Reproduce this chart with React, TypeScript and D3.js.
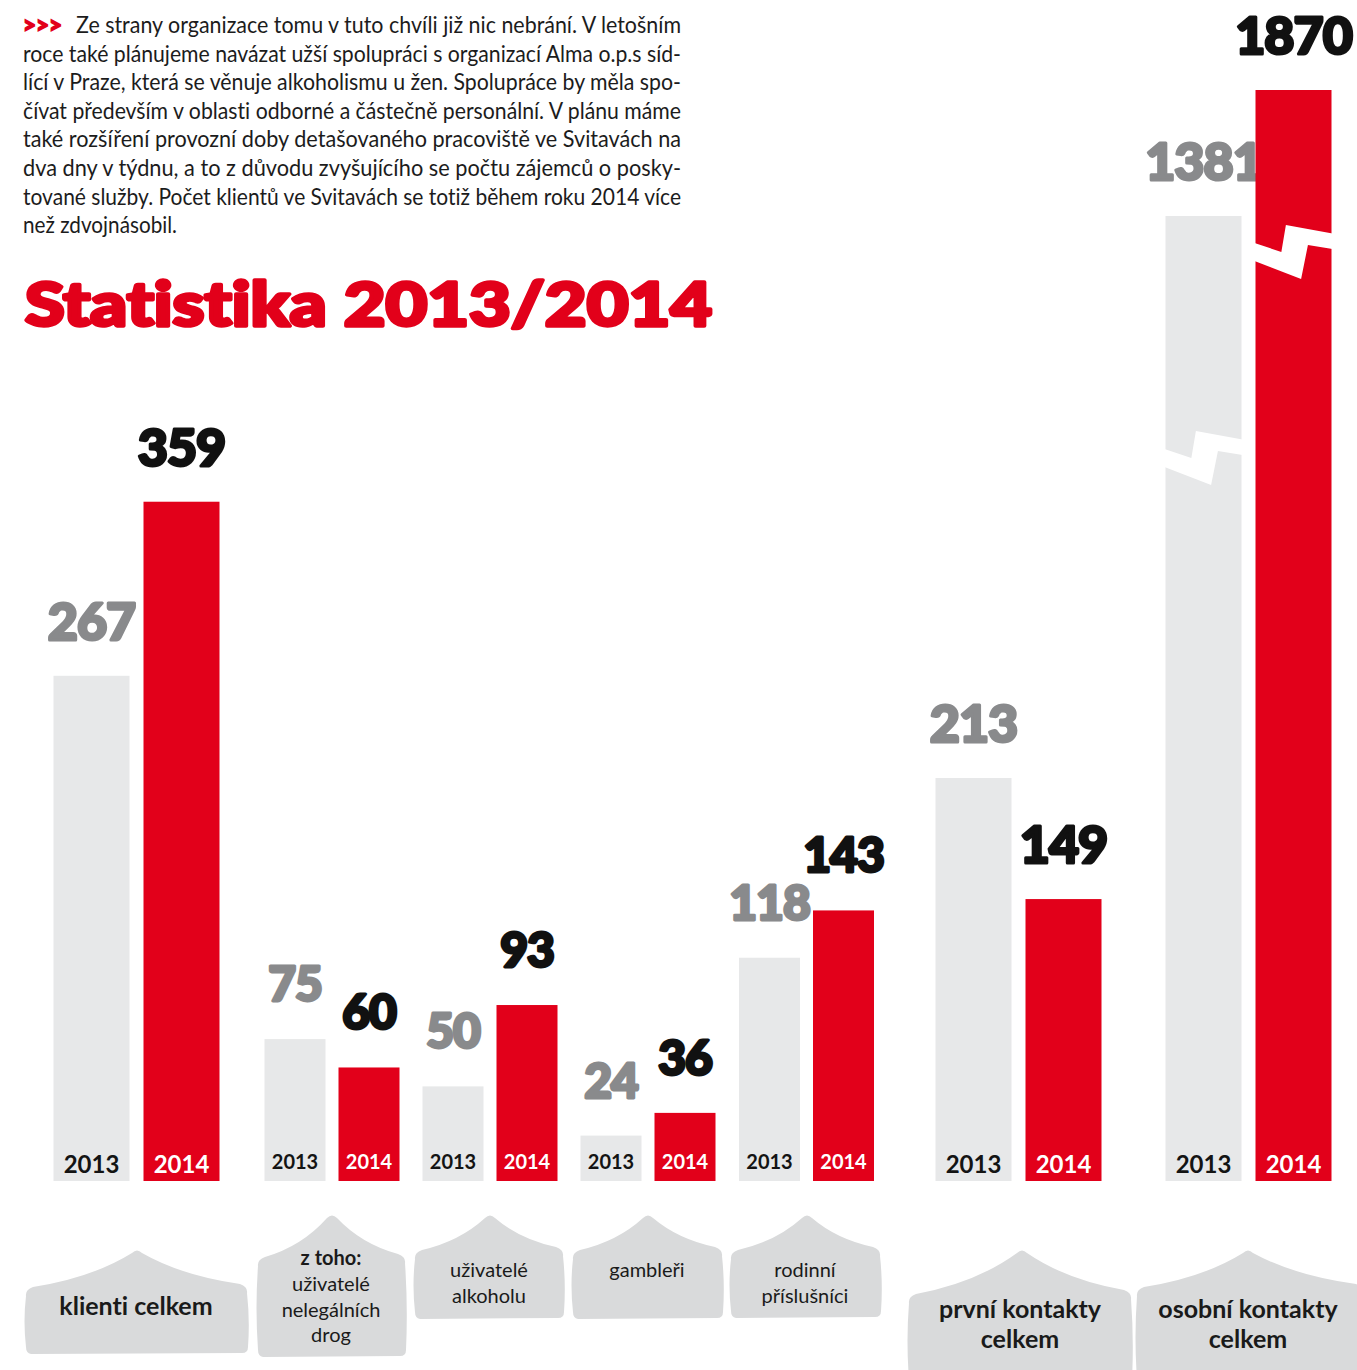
import React from 'react';
import * as d3 from 'd3';

// ---------- DATA ----------
const categories = [
  'klienti celkem',
  'z toho: uživatelé nelegálních drog',
  'uživatelé alkoholu',
  'gambleři',
  'rodinní příslušníci',
  'první kontakty celkem',
  'osobní kontakty celkem',
];
const categoryLines = [
  ['klienti celkem'],
  ['z toho:', 'uživatelé', 'nelegálních', 'drog'],
  ['uživatelé', 'alkoholu'],
  ['gambleři'],
  ['rodinní', 'příslušníci'],
  ['první kontakty', 'celkem'],
  ['osobní kontakty', 'celkem'],
];
const years = ['2013', '2014'];
const values2013 = [267, 75, 50, 24, 118, 213, 1381];
const values2014 = [359, 60, 93, 36, 143, 149, 1870];
const brokenGroups = [6];

const title = 'Statistika 2013/2014';
const paragraphLead = '>>>';
const paragraphLines = [
  'Ze strany organizace tomu v tuto chvíli již nic nebrání. V letošním',
  'roce také plánujeme navázat užší spolupráci s organizací Alma o.p.s síd-',
  'lící v Praze, která se věnuje alkoholismu u žen. Spolupráce by měla spo-',
  'čívat především v oblasti odborné a částečně personální. V plánu máme',
  'také rozšíření provozní doby detašovaného pracoviště ve Svitavách na',
  'dva dny v týdnu, a to z důvodu zvyšujícího se počtu zájemců o posky-',
  'tované služby. Počet klientů ve Svitavách se totiž během roku 2014 více',
  'než zdvojnásobil.',
];

// ---------- LAYOUT / STYLE ----------
const W = 1357;
const H = 1370;
const RED = '#e2001a';
const BAR_GRAY = '#e7e8e9';
const SHAPE_GRAY = '#d9dadb';
const NUM_GRAY = '#898a8c';
const INK = '#141414';

const BASELINE = 1181;
const BREAK_VALUE = 372.7; // value where scale changes slope (broken bars)
const y = d3
  .scaleLinear()
  .domain([0, BREAK_VALUE, 1870])
  .range([BASELINE, 475.8, 90]);

const groupCenter = [136.5, 332, 490, 648, 806.5, 1018.5, 1248.5];
const wide = [true, false, false, false, false, true, true];
const BREAK_PEAK_Y = [431, 225];

const shapes = [
  { x0: 25, x1: 248, px: 137, yl: 1290, yr: 1287, yp: 1249, yb: 1353 },
  { x0: 257, x1: 406, px: 332, yl: 1260, yr: 1257, yp: 1214, yb: 1356 },
  { x0: 414, x1: 564, px: 490, yl: 1253, yr: 1250, yp: 1214, yb: 1318 },
  { x0: 572, x1: 723, px: 648, yl: 1253, yr: 1250, yp: 1214, yb: 1318 },
  { x0: 730, x1: 881, px: 807, yl: 1253, yr: 1250, yp: 1214, yb: 1317 },
  { x0: 908, x1: 1132, px: 1022, yl: 1297, yr: 1293, yp: 1249, yb: 1385 },
  { x0: 1136, x1: 1364, px: 1248, yl: 1290, yr: 1287, yp: 1249, yb: 1385 },
];
const labelLayout = [
  { cx: 136, base: 1315, lh: 0, size: 25, boldAll: true },
  { cx: 331, base: 1265, lh: 25.8, size: 20, boldAll: false, boldFirst: true },
  { cx: 489, base: 1277, lh: 26, size: 20, boldAll: false },
  { cx: 647, base: 1277, lh: 26, size: 20, boldAll: false },
  { cx: 805, base: 1277, lh: 26, size: 20, boldAll: false },
  { cx: 1020, base: 1318, lh: 30, size: 25, boldAll: true },
  { cx: 1248, base: 1318, lh: 30, size: 25, boldAll: true },
];

function housePath(s: any) {
  const { x0, x1, px, yl, yr, yp, yb } = s;
  const r = 6;
  const cl = [x0 + (px - x0) * 0.6, yl - (yl - yp) * 0.3];
  const cr = [x1 - (x1 - px) * 0.6, yr - (yr - yp) * 0.3];
  return [
    `M${x0 + 1},${yb - r}`,
    `Q${x0 - 2},${(yb + yl) / 2} ${x0 + 1},${yl + r}`,
    `Q${x0},${yl} ${x0 + r + 2},${yl - 3}`,
    `Q${cl[0]},${cl[1]} ${px - 5},${yp + 4}`,
    `Q${px},${yp - 1} ${px + 5},${yp + 4}`,
    `Q${cr[0]},${cr[1]} ${x1 - r - 2},${yr - 3}`,
    `Q${x1},${yr} ${x1 - 1},${yr + r}`,
    `Q${x1 + 2},${(yb + yr) / 2} ${x1},${yb - r}`,
    `Q${x1},${yb} ${x1 - r},${yb}`,
    `L${x0 + r},${yb + 1}`,
    `Q${x0 + 1},${yb} ${x0 + 1},${yb - r}`,
    'Z',
  ].join(' ');
}

function breakPath(x0: number, w: number, yp: number) {
  const pts: [number, number][] = [
    [x0 - 1, yp + 18],
    [x0 + 0.34 * w, yp + 27],
    [x0 + 0.4 * w, yp],
    [x0 + w + 1, yp + 8.5],
    [x0 + w + 1, yp + 24],
    [x0 + 0.69 * w, yp + 20],
    [x0 + 0.6 * w, yp + 54],
    [x0 - 1, yp + 36],
  ];
  return d3.line()(pts) + 'Z';
}

export default function App() {
  const NUM_FONT = "Lato, 'DejaVu Sans', sans-serif";
  const TXT_FONT = "Lato, 'Noto Sans', sans-serif";
  const paraX0 = 23;
  const paraX1 = 681;
  const paraBase = 33;
  const paraLH = 28.6;

  return (
    <div style={{ position: 'absolute', left: 0, top: 0 }}>
      <svg
        width={W}
        height={H}
        style={{ display: 'block', background: '#fff', fontVariantLigatures: 'none' }}
      >
        {/* paragraph */}
        <text
          x={paraX0}
          y={paraBase}
          fontFamily={NUM_FONT}
          fontWeight={900}
          fontSize={23}
          fill={RED}
          stroke={RED}
          strokeWidth={1.6}
          textLength={39}
          lengthAdjust="spacingAndGlyphs"
        >
          {paragraphLead}
        </text>
        {paragraphLines.map((line, i) => {
          const x = i === 0 ? 76 : paraX0;
          const isLast = i === paragraphLines.length - 1;
          const len = isLast ? 154 : paraX1 - x;
          return (
            <text
              key={i}
              x={x}
              y={paraBase + i * paraLH}
              fontFamily={TXT_FONT}
              fontSize={23}
              fill="#1c1c1c"
              textLength={len}
              lengthAdjust="spacingAndGlyphs"
            >
              {line}
            </text>
          );
        })}

        {/* title */}
        <text
          x={25}
          y={326}
          fontFamily={NUM_FONT}
          fontWeight={900}
          fontSize={60}
          fill={RED}
          stroke={RED}
          strokeWidth={3.5}
          strokeLinejoin="round"
          textLength={687}
          lengthAdjust="spacingAndGlyphs"
        >
          {title}
        </text>

        {/* category shapes */}
        {shapes.map((s, i) => (
          <path key={'s' + i} d={housePath(s)} fill={SHAPE_GRAY} />
        ))}
        {categoryLines.map((lines, i) => {
          const L = labelLayout[i];
          return (
            <g key={'c' + i} aria-label={categories[i]}>
              {lines.map((ln, j) => (
                <text
                  key={j}
                  x={L.cx}
                  y={L.base + j * L.lh}
                  textAnchor="middle"
                  fontFamily={TXT_FONT}
                  fontSize={L.size}
                  fontWeight={L.boldAll || (L.boldFirst && j === 0) ? 700 : 400}
                  fill="#1a1a1a"
                >
                  {ln}
                </text>
              ))}
            </g>
          );
        })}

        {/* bars */}
        {values2013.map((v13, i) => {
          const v14 = values2014[i];
          const bw = wide[i] ? 76 : 61;
          const gap = wide[i] ? 14 : 13;
          const c = groupCenter[i];
          const xs = [c - gap / 2 - bw, c + gap / 2];
          const vals = [v13, v14];
          const numSize = wide[i] ? 52 : 48;
          const numGap = wide[i] ? 36 : 38;
          const yrSize = wide[i] ? 24 : 20;
          const yrBase = wide[i] ? 1173 : 1169;
          const broken = brokenGroups.includes(i);
          return (
            <g key={'b' + i}>
              {vals.map((v, k) => {
                const top = y(v);
                const col = k === 0 ? NUM_GRAY : '#111';
                return (
                  <g key={k}>
                    <rect
                      x={xs[k]}
                      y={top}
                      width={bw}
                      height={BASELINE - top}
                      fill={k === 0 ? BAR_GRAY : RED}
                    />
                    {broken && (
                      <path d={breakPath(xs[k], bw, BREAK_PEAK_Y[k])} fill="#fff" />
                    )}
                    <text
                      x={xs[k] + bw / 2}
                      y={top - numGap}
                      textAnchor="middle"
                      fontFamily={NUM_FONT}
                      fontWeight={900}
                      fontSize={numSize}
                      letterSpacing={-1}
                      fill={col}
                      stroke={col}
                      strokeWidth={3}
                      strokeLinejoin="round"
                    >
                      {v}
                    </text>
                    <text
                      x={xs[k] + bw / 2}
                      y={yrBase}
                      textAnchor="middle"
                      fontFamily={TXT_FONT}
                      fontWeight={700}
                      fontSize={yrSize}
                      fill={k === 0 ? INK : '#fff'}
                    >
                      {years[k]}
                    </text>
                  </g>
                );
              })}
            </g>
          );
        })}
      </svg>
    </div>
  );
}
